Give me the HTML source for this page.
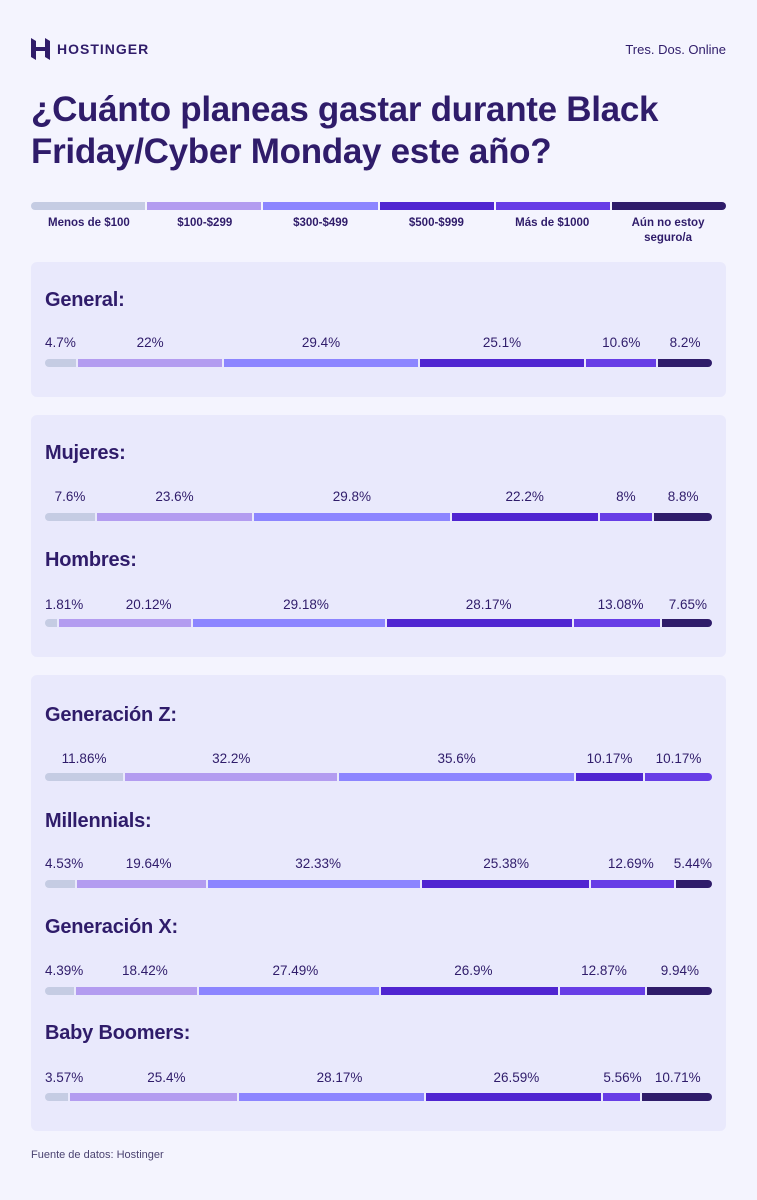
<!DOCTYPE html>
<html><head><meta charset="utf-8"><style>
*{margin:0;padding:0;box-sizing:border-box}
body{width:757px;height:1200px;background:#f4f4fe;font-family:"Liberation Sans",sans-serif;color:#2f1c6a;position:relative;overflow:hidden}
.a{position:absolute}
.panel{position:absolute;left:31px;width:695px;background:#e9e9fc;border-radius:6px}
.h{position:absolute;left:45px;font-size:20px;font-weight:bold;letter-spacing:-0.2px}
.row{position:absolute;left:45px;width:667px;display:flex}
.bar{height:8px}
.bar div{height:8px;margin-right:2px}
.bar div:first-child{border-radius:4px 0 0 4px}
.bar div:last-child{border-radius:0 4px 4px 0;margin-right:0}
.lab div{text-align:center;font-size:13.5px;white-space:nowrap;display:flex;justify-content:center;margin-right:2px}
.lab div:last-child{margin-right:0}
.c1{background:#c5cce3}.c2{background:#b39cf0}.c3{background:#8c85ff}.c4{background:#5025d1}.c5{background:#673de6}.c6{background:#2f1c6a}
</style></head><body>
<svg class="a" style="left:31px;top:38px" width="19" height="22" viewBox="0 0 19 22"><path d="M0 0l5 3v6l9 0V0l5 3v8H0z M0 11h19v11l-5-3v-6H5v9l-5-3z" fill="#2f1c6a"/></svg>
<div class="a" style="left:57px;top:41px;font-size:14px;font-weight:bold;letter-spacing:1px">HOSTINGER</div>
<div class="a" style="right:31px;top:42px;font-size:13px">Tres. Dos. Online</div>
<div class="a" style="left:31px;top:89px;font-size:35px;font-weight:bold;line-height:42px;letter-spacing:-0.3px">¿Cuánto planeas gastar durante Black<br>Friday/Cyber Monday este año?</div>
<div class="row bar" style="left:31px;width:695px;top:202px">
<div class="c1" style="flex:1"></div><div class="c2" style="flex:1"></div><div class="c3" style="flex:1"></div><div class="c4" style="flex:1"></div><div class="c5" style="flex:1"></div><div class="c6" style="flex:1"></div></div>
<div class="row" style="left:31px;width:695px;top:216px;font-size:11.5px;font-weight:bold;text-align:center;line-height:15px">
<div style="flex:1">Menos de $100</div><div style="flex:1">$100-$299</div><div style="flex:1">$300-$499</div><div style="flex:1">$500-$999</div><div style="flex:1">Más de $1000</div><div style="flex:1">Aún no estoy<br>seguro/a</div></div>

<div class="panel" style="top:262px;height:135px"></div>
<div class="panel" style="top:415px;height:242px"></div>
<div class="panel" style="top:675px;height:456px"></div>

<div class="h" style="top:289px">General:</div>
<div class="row lab" style="top:335px"><div style="flex:4.7">4.7%</div><div style="flex:22">22%</div><div style="flex:29.4">29.4%</div><div style="flex:25.1">25.1%</div><div style="flex:10.6">10.6%</div><div style="flex:8.2">8.2%</div></div>
<div class="row bar" style="top:359px"><div class="c1" style="flex:4.7"></div><div class="c2" style="flex:22"></div><div class="c3" style="flex:29.4"></div><div class="c4" style="flex:25.1"></div><div class="c5" style="flex:10.6"></div><div class="c6" style="flex:8.2"></div></div>

<div class="h" style="top:442px">Mujeres:</div>
<div class="row lab" style="top:489px"><div style="flex:7.6">7.6%</div><div style="flex:23.6">23.6%</div><div style="flex:29.8">29.8%</div><div style="flex:22.2">22.2%</div><div style="flex:8">8%</div><div style="flex:8.8">8.8%</div></div>
<div class="row bar" style="top:513px"><div class="c1" style="flex:7.6"></div><div class="c2" style="flex:23.6"></div><div class="c3" style="flex:29.8"></div><div class="c4" style="flex:22.2"></div><div class="c5" style="flex:8"></div><div class="c6" style="flex:8.8"></div></div>

<div class="h" style="top:549px">Hombres:</div>
<div class="row lab" style="top:597px"><div style="flex:1.81">1.81%</div><div style="flex:20.12">20.12%</div><div style="flex:29.18">29.18%</div><div style="flex:28.17">28.17%</div><div style="flex:13.08">13.08%</div><div style="flex:7.65">7.65%</div></div>
<div class="row bar" style="top:619px"><div class="c1" style="flex:1.81"></div><div class="c2" style="flex:20.12"></div><div class="c3" style="flex:29.18"></div><div class="c4" style="flex:28.17"></div><div class="c5" style="flex:13.08"></div><div class="c6" style="flex:7.65"></div></div>

<div class="h" style="top:704px">Generación Z:</div>
<div class="row lab" style="top:751px"><div style="flex:11.86">11.86%</div><div style="flex:32.2">32.2%</div><div style="flex:35.6">35.6%</div><div style="flex:10.17">10.17%</div><div style="flex:10.17">10.17%</div></div>
<div class="row bar" style="top:773px"><div class="c1" style="flex:11.86"></div><div class="c2" style="flex:32.2"></div><div class="c3" style="flex:35.6"></div><div class="c4" style="flex:10.17"></div><div class="c5" style="flex:10.17"></div></div>

<div class="h" style="top:810px">Millennials:</div>
<div class="row lab" style="top:856px"><div style="flex:4.53">4.53%</div><div style="flex:19.64">19.64%</div><div style="flex:32.33">32.33%</div><div style="flex:25.38">25.38%</div><div style="flex:12.69">12.69%</div><div style="flex:5.44">5.44%</div></div>
<div class="row bar" style="top:880px"><div class="c1" style="flex:4.53"></div><div class="c2" style="flex:19.64"></div><div class="c3" style="flex:32.33"></div><div class="c4" style="flex:25.38"></div><div class="c5" style="flex:12.69"></div><div class="c6" style="flex:5.44"></div></div>

<div class="h" style="top:916px">Generación X:</div>
<div class="row lab" style="top:963px"><div style="flex:4.39">4.39%</div><div style="flex:18.42">18.42%</div><div style="flex:27.49">27.49%</div><div style="flex:26.9">26.9%</div><div style="flex:12.87">12.87%</div><div style="flex:9.94">9.94%</div></div>
<div class="row bar" style="top:987px"><div class="c1" style="flex:4.39"></div><div class="c2" style="flex:18.42"></div><div class="c3" style="flex:27.49"></div><div class="c4" style="flex:26.9"></div><div class="c5" style="flex:12.87"></div><div class="c6" style="flex:9.94"></div></div>

<div class="h" style="top:1022px">Baby Boomers:</div>
<div class="row lab" style="top:1070px"><div style="flex:3.57">3.57%</div><div style="flex:25.4">25.4%</div><div style="flex:28.17">28.17%</div><div style="flex:26.59">26.59%</div><div style="flex:5.56">5.56%</div><div style="flex:10.71">10.71%</div></div>
<div class="row bar" style="top:1093px"><div class="c1" style="flex:3.57"></div><div class="c2" style="flex:25.4"></div><div class="c3" style="flex:28.17"></div><div class="c4" style="flex:26.59"></div><div class="c5" style="flex:5.56"></div><div class="c6" style="flex:10.71"></div></div>

<div class="a" style="left:31px;top:1149px;font-size:11px;color:#4a4270">Fuente de datos: Hostinger</div>
</body></html>
